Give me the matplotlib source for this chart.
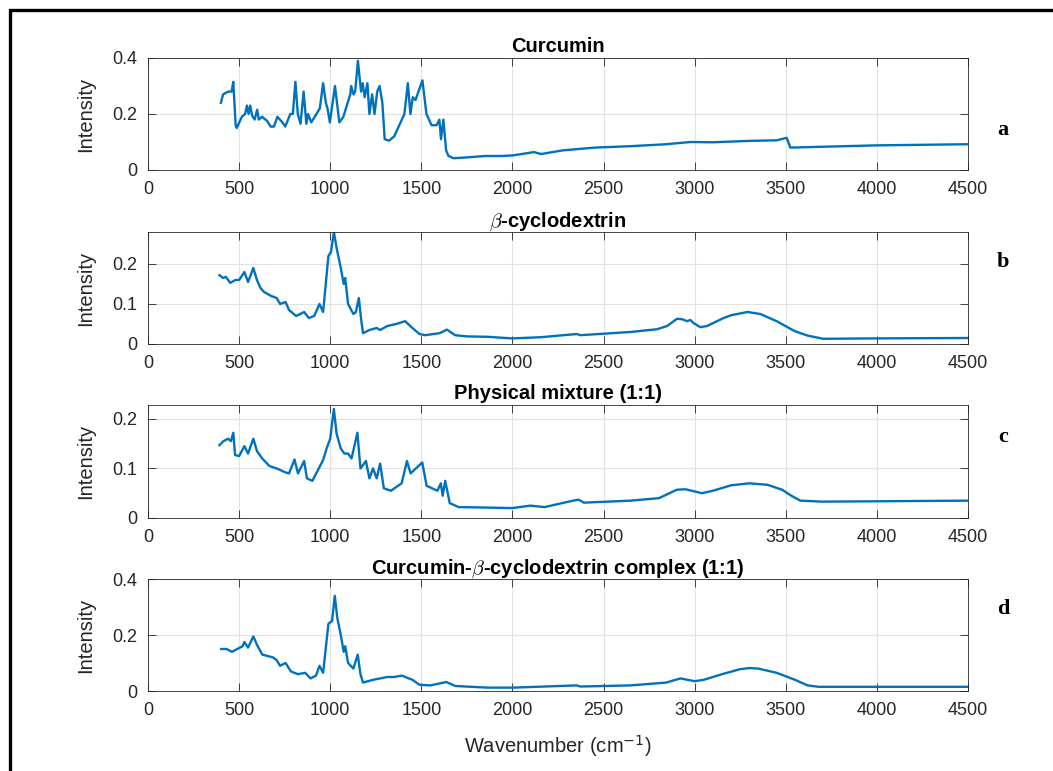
import matplotlib
matplotlib.use("Agg")
import matplotlib.pyplot as plt
from matplotlib.patches import Rectangle
from matplotlib.ticker import FormatStrFormatter

# spectra (wavenumber, intensity)
curcumin_x = [400, 412, 440, 459, 468, 481, 487, 515, 533, 543, 552, 561, 571, 585, 599, 608, 626,
              654, 673, 691, 710, 738, 753, 781, 795, 809, 822, 837, 854, 869, 878, 896, 943, 961,
              976, 985, 998, 1026, 1050, 1072, 1110, 1115, 1128, 1137, 1152, 1169, 1178, 1189, 1204,
              1215, 1230, 1243, 1258, 1271, 1286, 1299, 1323, 1351, 1407, 1426, 1440, 1453, 1468,
              1506, 1528, 1556, 1584, 1599, 1608, 1621, 1636, 1649, 1677, 1750, 1850, 1941, 2000,
              2060, 2118, 2157, 2275, 2451, 2647, 2843, 2977, 3100, 3300, 3450, 3505, 3525, 3700,
              4000, 4500]
curcumin_y = [0.24, 0.27, 0.28, 0.28, 0.315, 0.16, 0.15, 0.19, 0.20, 0.23, 0.20, 0.23, 0.195, 0.18,
              0.215, 0.18, 0.19, 0.175, 0.155, 0.155, 0.19, 0.17, 0.155, 0.20, 0.20, 0.315, 0.20,
              0.165, 0.28, 0.165, 0.20, 0.17, 0.22, 0.31, 0.24, 0.22, 0.17, 0.30, 0.17, 0.19, 0.27,
              0.30, 0.27, 0.28, 0.39, 0.28, 0.31, 0.26, 0.31, 0.20, 0.27, 0.20, 0.28, 0.30, 0.24,
              0.11, 0.105, 0.12, 0.20, 0.31, 0.20, 0.26, 0.25, 0.32, 0.20, 0.16, 0.16, 0.18, 0.11,
              0.18, 0.07, 0.05, 0.042, 0.045, 0.05, 0.05, 0.052, 0.058, 0.064, 0.057, 0.07, 0.08,
              0.085, 0.092, 0.10, 0.099, 0.104, 0.106, 0.115, 0.08, 0.083, 0.088, 0.092]

bcd_x = [392, 412, 427, 451, 480, 500, 529, 549, 578, 598, 617, 637, 676, 706, 725, 755, 774, 813,
         857, 882, 912, 941, 961, 990, 1004, 1020, 1035, 1058, 1074, 1082, 1098, 1127, 1141, 1157,
         1170, 1180, 1215, 1255, 1274, 1313, 1362, 1411, 1451, 1490, 1520, 1600, 1640, 1686, 1750,
         1863, 2000, 2157, 2353, 2373, 2647, 2794, 2849, 2903, 2931, 2958, 2976, 2995, 3031, 3068,
         3159, 3200, 3290, 3360, 3450, 3550, 3620, 3706, 3980, 4500]
bcd_y = [0.172, 0.165, 0.168, 0.153, 0.16, 0.16, 0.18, 0.155, 0.19, 0.16, 0.14, 0.13, 0.12, 0.115,
         0.10, 0.105, 0.085, 0.07, 0.08, 0.065, 0.07, 0.10, 0.08, 0.22, 0.23, 0.28, 0.24, 0.19,
         0.15, 0.165, 0.10, 0.075, 0.08, 0.115, 0.06, 0.027, 0.035, 0.04, 0.035, 0.045, 0.05,
         0.057, 0.04, 0.025, 0.022, 0.027, 0.036, 0.022, 0.019, 0.018, 0.014, 0.017, 0.025, 0.022,
         0.03, 0.037, 0.045, 0.063, 0.062, 0.057, 0.06, 0.052, 0.042, 0.045, 0.065, 0.072, 0.08,
         0.075, 0.057, 0.032, 0.021, 0.013, 0.014, 0.015]

mix_x = [392, 414, 439, 455, 468, 478, 500, 529, 549, 578, 598, 627, 666, 706, 755, 774, 804, 823,
         857, 872, 902, 961, 980, 1000, 1020, 1035, 1058, 1078, 1098, 1117, 1149, 1166, 1196, 1215,
         1235, 1255, 1274, 1294, 1333, 1392, 1421, 1441, 1470, 1505, 1529, 1588, 1607, 1617, 1631,
         1656, 1705, 1863, 2000, 2098, 2176, 2333, 2363, 2392, 2647, 2804, 2902, 2950, 3040, 3100,
         3200, 3300, 3400, 3480, 3530, 3580, 3700, 4500]
mix_y = [0.147, 0.155, 0.16, 0.155, 0.172, 0.127, 0.125, 0.145, 0.13, 0.16, 0.135, 0.12, 0.105,
         0.10, 0.092, 0.09, 0.118, 0.09, 0.115, 0.08, 0.075, 0.117, 0.14, 0.16, 0.22, 0.17, 0.14,
         0.13, 0.13, 0.12, 0.172, 0.10, 0.115, 0.08, 0.10, 0.08, 0.11, 0.06, 0.055, 0.07, 0.115,
         0.09, 0.10, 0.112, 0.065, 0.055, 0.07, 0.045, 0.075, 0.03, 0.022, 0.021, 0.02, 0.025,
         0.022, 0.035, 0.037, 0.031, 0.035, 0.04, 0.057, 0.058, 0.05, 0.055, 0.066, 0.07, 0.067,
         0.057, 0.045, 0.035, 0.033, 0.035]

cplx_x = [402, 431, 461, 490, 519, 529, 549, 578, 598, 627, 686, 706, 725, 755, 784, 823, 862,
          892, 922, 941, 961, 990, 1010, 1025, 1039, 1058, 1074, 1082, 1098, 1127, 1151, 1166,
          1180, 1235, 1313, 1353, 1392, 1451, 1490, 1549, 1637, 1686, 1863, 2000, 2353, 2373,
          2647, 2843, 2922, 3000, 3050, 3150, 3250, 3300, 3350, 3450, 3550, 3620, 3680, 4500]
cplx_y = [0.15, 0.15, 0.14, 0.15, 0.16, 0.175, 0.155, 0.195, 0.165, 0.13, 0.12, 0.11, 0.09, 0.10,
          0.07, 0.06, 0.065, 0.045, 0.055, 0.09, 0.065, 0.24, 0.25, 0.34, 0.26, 0.20, 0.14, 0.16,
          0.10, 0.08, 0.13, 0.06, 0.03, 0.04, 0.05, 0.05, 0.055, 0.04, 0.022, 0.02, 0.032, 0.018,
          0.012, 0.012, 0.02, 0.016, 0.02, 0.03, 0.045, 0.035, 0.04, 0.06, 0.078, 0.082, 0.08,
          0.065, 0.04, 0.02, 0.015, 0.015]

titles = ["Curcumin", r"$\beta$-cyclodextrin", "Physical mixture (1:1)",
          r"Curcumin-$\beta$-cyclodextrin complex (1:1)"]
panel_tags = ["a", "b", "c", "d"]
y_tops = [0.4, 0.28, 0.228, 0.4]
y_ticks = [[0, 0.2, 0.4], [0, 0.1, 0.2], [0, 0.1, 0.2], [0, 0.2, 0.4]]
x_ticks = list(range(0, 4501, 500))

series = [(curcumin_x, curcumin_y), (bcd_x, bcd_y), (mix_x, mix_y), (cplx_x, cplx_y)]

plt.rcParams['font.family'] = ['Liberation Sans', 'DejaVu Sans']

fig = plt.figure(figsize=(10.53, 7.71), dpi=100)
W, H = 1053, 771

# axes boxes in pixel rows (top, bottom) from the reference
rows = [(58, 170), (232, 344), (405, 518), (579, 691)]
tag_y = [130, 262, 437, 609]
dark = '#262626'

for i, (x, y) in enumerate(series):
    top, bot = rows[i]
    ax = fig.add_axes([148 / W, 1 - bot / H, 820 / W, (bot - top) / H])
    ax.plot(x, y, color='#0072BD', linewidth=1.7)
    ax.set_xlim(0, 4500)
    ax.set_ylim(0, y_tops[i])
    ax.set_xticks(x_ticks)
    ax.set_yticks(y_ticks[i])
    ax.yaxis.set_major_formatter(FormatStrFormatter('%g'))
    ax.grid(True, color='#e2e2e2', linewidth=0.8)
    ax.set_axisbelow(True)
    ax.tick_params(direction='in', length=6, width=0.6, colors=dark, labelsize=13,
                   top=True, right=True, pad=8)
    for s in ax.spines.values():
        s.set_color(dark)
        s.set_linewidth(0.6)
    ax.set_title(titles[i], fontsize=14.5, fontweight='bold', pad=4, math_fontfamily='cm')
    ax.set_ylabel("Intensity", fontsize=14.5, color=dark)
    ax.yaxis.set_label_coords(-0.065, 0.5)
    fig.text(1003 / W, 1 - tag_y[i] / H, panel_tags[i], family='Liberation Serif',
             fontweight='bold', fontsize=16, ha='center', va='center')

ax.set_xlabel("Wavenumber (cm$^{-1}$)", fontsize=14.5, color=dark)
ax.xaxis.set_label_coords(0.5, -0.38)

# black frame around the figure (only left and top edges fall inside the picture)
frame = Rectangle((10 / W, -0.2), 1.2, 1 - 10 / H + 0.2, transform=fig.transFigure,
                  fill=False, edgecolor='black', linewidth=2.4, clip_on=False)
fig.add_artist(frame)

plt.savefig("out.png", dpi=100)
plt.close()
